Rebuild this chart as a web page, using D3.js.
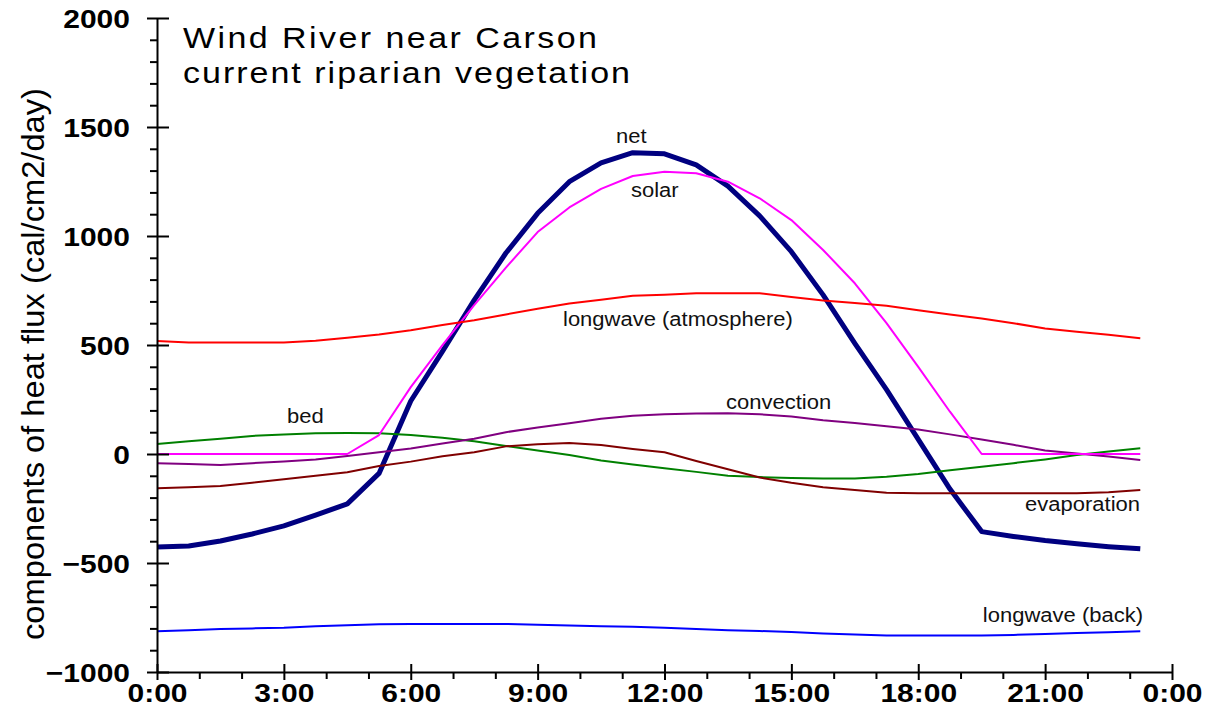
<!DOCTYPE html>
<html><head><meta charset="utf-8">
<script src="https://cdn.jsdelivr.net/npm/d3@7"></script>
<style>
body{margin:0;background:#fff;}
svg{display:block;font-family:"Liberation Sans",Arial,sans-serif;}
</style>
</head><body>
<svg id="c" width="1212" height="725"></svg>
<script>
// ---- data (hours of day, 45-minute steps) ----
const hours = [0,0.75,1.5,2.25,3,3.75,4.5,5.25,6,6.75,7.5,8.25,9,9.75,10.5,11.25,12,12.75,13.5,14.25,15,15.75,16.5,17.25,18,18.75,19.5,20.25,21,21.75,22.5,23.25];

const net      = [-427,-422,-399,-367,-330,-280,-229,-89,243,471,706,922,1104,1249,1335,1382,1377,1326,1229,1092,928,730,508,295,67,-161,-356,-378,-397,-412,-425,-435];
const solar    = [0,0,0,0,0,0,0,87,307,499,683,855,1018,1131,1216,1275,1295,1288,1249,1173,1073,936,783,600,400,194,0,0,0,0,0,0];
const longAtm  = [518,512,511,511,512,520,533,548,568,592,614,640,666,690,708,726,731,737,737,737,720,704,693,680,659,640,622,600,576,561,547,531];
const longBack = [-813,-808,-803,-800,-797,-790,-785,-781,-780,-780,-780,-780,-783,-787,-790,-793,-797,-803,-808,-812,-817,-823,-828,-832,-833,-833,-833,-830,-826,-821,-818,-813];
const bed      = [46,58,70,83,90,95,96,95,87,75,59,37,16,-5,-30,-48,-65,-82,-100,-106,-110,-112,-112,-104,-92,-75,-58,-42,-25,-5,12,26];
const conv     = [-43,-46,-50,-42,-34,-25,-9,8,25,48,70,100,122,141,162,175,182,186,187,182,172,155,142,127,112,90,67,42,16,2,-12,-27];
const evap     = [-157,-152,-147,-132,-116,-100,-84,-55,-35,-10,8,35,45,50,41,23,8,-32,-70,-108,-132,-152,-165,-178,-180,-180,-180,-180,-180,-180,-176,-165];

const xMajorTicks = [0,3,6,9,12,15,18,21,24];
const xTickLabels = ["0:00","3:00","6:00","9:00","12:00","15:00","18:00","21:00","0:00"];
const xMinorTicks = [1,2,4,5,7,8,10,11,13,14,16,17,19,20,22,23];
const yMajorTicks = [-1000,-500,0,500,1000,1500,2000];
const yMinorTicks = [-900,-800,-700,-600,-400,-300,-200,-100,100,200,300,400,600,700,800,900,1100,1200,1300,1400,1600,1700,1800,1900];

const titleLines = ["Wind River near Carson","current riparian vegetation"];
const yTitle = "components of heat flux (cal/cm2/day)";

// ---- chart ----
const svg = d3.select("#c");
const x = d3.scaleLinear().domain([0,24]).range([157,1172]);
const y = d3.scaleLinear().domain([-1000,2000]).range([672,18]);
const VS = 0.88;

const series = [
  {name:"net", values:net, color:"#000080", width:5},
  {name:"longwave (back)", values:longBack, color:"#0000ff", width:2},
  {name:"bed", values:bed, color:"#008000", width:2},
  {name:"evaporation", values:evap, color:"#800000", width:2},
  {name:"convection", values:conv, color:"#800080", width:2},
  {name:"solar", values:solar, color:"#ff00ff", width:2},
  {name:"longwave (atmosphere)", values:longAtm, color:"#ff0000", width:2}
];

const line = d3.line().x((d,i)=>x(hours[i])).y(d=>y(d));
svg.append("g").selectAll("path").data(series).join("path")
  .attr("d", d=>line(d.values))
  .attr("fill","none")
  .attr("stroke", d=>d.color)
  .attr("stroke-width", d=>d.width)
  .attr("stroke-linejoin","round");

// x axis
const gxMinor = svg.append("g").attr("transform","translate(0,672)")
  .call(d3.axisBottom(x).tickValues(xMinorTicks).tickSize(7).tickSizeOuter(0).tickFormat(""));
gxMinor.select(".domain").remove();
gxMinor.selectAll(".tick line").attr("stroke","#000").attr("stroke-width",2);

const gx = svg.append("g").attr("transform","translate(0,672)")
  .call(d3.axisBottom(x).tickValues(xMajorTicks).tickFormat((d,i)=>xTickLabels[i]).tickSize(8).tickSizeOuter(0));
gx.select(".domain").attr("stroke","#000").attr("stroke-width",2);
gx.selectAll(".tick line").attr("y1",-8).attr("y2",8).attr("stroke","#000").attr("stroke-width",2);
gx.selectAll(".tick text").attr("y",null).attr("dy",null)
  .attr("transform",`translate(0,30) scale(1,${VS})`)
  .attr("fill","#000").style("font-size","30px").style("font-weight","bold")
  .style("font-family",'"Liberation Sans",Arial,sans-serif');

// y axis
const gyMinor = svg.append("g").attr("transform","translate(157,0)")
  .call(d3.axisLeft(y).tickValues(yMinorTicks).tickSize(7).tickSizeOuter(0).tickFormat(""));
gyMinor.select(".domain").remove();
gyMinor.selectAll(".tick line").attr("stroke","#000").attr("stroke-width",2);

const gy = svg.append("g").attr("transform","translate(157,0)")
  .call(d3.axisLeft(y).tickValues(yMajorTicks).tickFormat(d3.format("d")).tickSize(10).tickSizeOuter(0));
gy.select(".domain").attr("stroke","#000").attr("stroke-width",2);
gy.selectAll(".tick line").attr("x1",12).attr("x2",-10).attr("stroke","#000").attr("stroke-width",2);
gy.selectAll(".tick text").attr("x",null).attr("dy",null)
  .attr("transform",`translate(-27,9.5) scale(1,${VS})`)
  .attr("fill","#000").style("font-size","30px").style("font-weight","bold")
  .style("font-family",'"Liberation Sans",Arial,sans-serif');

// title
const titleSpec = [{t:titleLines[0], y:48, len:414},{t:titleLines[1], y:83, len:447}];
titleSpec.forEach(s=>{
  svg.append("text")
    .attr("transform",`translate(183,${s.y}) scale(1,${VS})`)
    .attr("textLength",s.len).attr("lengthAdjust","spacing")
    .style("font-size","34px").attr("fill","#000").text(s.t);
});

// y title
svg.append("text")
  .attr("transform","translate(44,364) rotate(-90)")
  .attr("text-anchor","middle")
  .attr("textLength",552).attr("lengthAdjust","spacingAndGlyphs")
  .style("font-size","31px").attr("fill","#000").text(yTitle);

// series annotations
const annos = [
  {t:"net", x:616, y:143, a:"start"},
  {t:"solar", x:631, y:197, a:"start"},
  {t:"longwave (atmosphere)", x:563, y:326, a:"start"},
  {t:"bed", x:287, y:423, a:"start"},
  {t:"convection", x:726, y:409, a:"start"},
  {t:"evaporation", x:1140, y:511, a:"end"},
  {t:"longwave (back)", x:1143, y:622, a:"end"}
];
svg.append("g").selectAll("text").data(annos).join("text")
  .attr("transform",d=>`translate(${d.x},${d.y}) scale(1,${VS})`)
  .attr("text-anchor",d=>d.a)
  .style("font-size","22px").attr("fill","#111")
  .text(d=>d.t);
</script>
</body></html>
